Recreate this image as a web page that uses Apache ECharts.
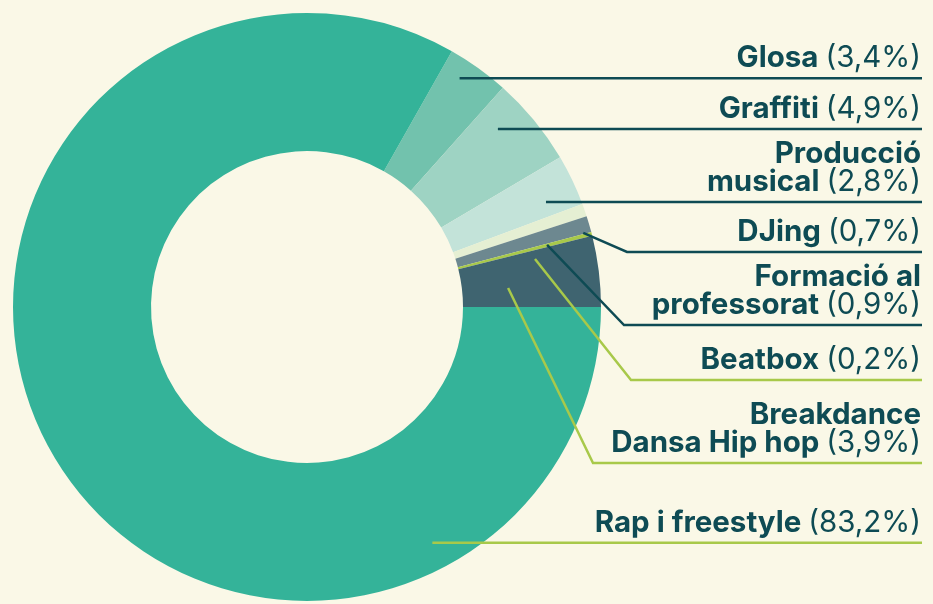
<!DOCTYPE html>
<html>
<head>
<meta charset="utf-8">
<script src="https://cdn.jsdelivr.net/npm/echarts@6/dist/echarts.min.js"></script>
<style>
  html, body { margin: 0; padding: 0; background: #faf8e7; }
  #chart { width: 933px; height: 604px; }
</style>
</head>
<body>
<div id="chart"></div>
<script>
// dades: percentatge per disciplina (ordre horari, Rap al final)
const categories = ['Glosa', 'Graffiti', 'Producció\nmusical', 'DJing', 'Formació al\nprofessorat', 'Beatbox', 'Breakdance\nDansa Hip hop', 'Rap i freestyle'];
const values = [3.4, 4.9, 2.8, 0.7, 0.9, 0.2, 3.9, 83.2];

// colors
const sliceColors = ['#72c2ad', '#9ed3c3', '#c3e3d9', '#e5efd3', '#6d8890', '#a8c94a', '#3f6470', '#34b399'];
const lineColors = ['#0e4b54', '#0e4b54', '#0e4b54', '#0e4b54', '#0e4b54', '#a8c94a', '#a8c94a', '#a8c94a'];
const TEXT = '#0e4b54';

// línies guia: angle (graus, horari des de les 12), radi de l'ancoratge, colze x, línia y
const leaders = [
  { ang: 33.7, r: 275 },
  { ang: 47.0, r: 261 },
  { ang: 66.3, r: 261 },
  { ang: 75.0, r: 286, ex: 627, y: 252 },
  { ang: 75.5, r: 248, ex: 624, y: 325 },
  { ang: 78.1, r: 233, ex: 631, y: 380 },
  { ang: 84.6, r: 202, ex: 593, y: 463 },
  { ang: 152, r: 267 }
];
const CX = 307, CY = 307, R0 = 156, R1 = 294;
const LINE_END = 922, TEXT_RIGHT = 921, TEXT_GAP = 6;
const FONT = 'Inter';
const FS = 29.5;

const total = values.reduce((a, b) => a + b, 0);
// el primer tram comença just on acaba el de Rap (que acaba a les 3h)
const startAngle = 360 * (total - values[values.length - 1]) / total;

const fmtPct = v => v.toFixed(1).replace('.', ',') + '%';

const pieBase = {
  type: 'pie',
  center: [CX, CY],
  radius: [R0, R1],
  startAngle: startAngle,
  clockwise: true,
  silent: true,
  avoidLabelOverlap: false,
  emphasis: { disabled: true }
};

const chart = echarts.init(document.getElementById('chart'));
chart.setOption({
  backgroundColor: '#faf8e7',
  animation: false,
  series: [
    // trams
    Object.assign({}, pieBase, {
      z: 2,
      label: { show: false },
      labelLine: { show: false },
      data: categories.map((name, i) => ({
        name: name,
        value: values[i],
        itemStyle: { color: sliceColors[i] }
      }))
    }),
    // etiquetes i línies guia per sobre dels trams
    Object.assign({}, pieBase, {
      z: 5,
      data: categories.map((name, i) => ({
        name: name,
        value: values[i],
        itemStyle: { color: 'rgba(0,0,0,0)' },
        labelLine: { lineStyle: { color: lineColors[i] } }
      })),
      label: {
        show: true,
        position: 'outside',
        overflow: 'none',
        lineHeight: 28,
        formatter: p => {
          const lines = p.name.split('\n');
          return lines.map((l, i) =>
            '{n|' + l + (i === lines.length - 1 ? ' ' : '') + '}' +
            (i === lines.length - 1 ? '{p|(' + fmtPct(p.value) + ')}' : '')
          ).join('\n');
        },
        rich: {
          n: { fontFamily: FONT, fontSize: FS, fontWeight: 'bold', color: TEXT, lineHeight: 28 },
          p: { fontFamily: FONT, fontSize: FS, fontWeight: 'normal', color: TEXT, lineHeight: 28 }
        }
      },
      labelLine: {
        show: true,
        smooth: false,
        length: 10,
        length2: 10,
        lineStyle: { width: 2.5, cap: 'butt' }
      },
      labelLayout: function (params) {
        const L = leaders[params.dataIndex];
        const a = L.ang * Math.PI / 180;
        const ax = CX + L.r * Math.sin(a);
        const ay = CY - L.r * Math.cos(a);
        const y = L.ex != null ? L.y : ay;
        const pts = [[ax, ay]];
        if (L.ex != null) pts.push([L.ex, y]);
        pts.push([LINE_END, y]);
        return {
          x: TEXT_RIGHT,
          y: y - TEXT_GAP,
          align: 'right',
          verticalAlign: 'bottom',
          labelLinePoints: pts
        };
      }
    })
  ]
});
</script>
</body>
</html>
